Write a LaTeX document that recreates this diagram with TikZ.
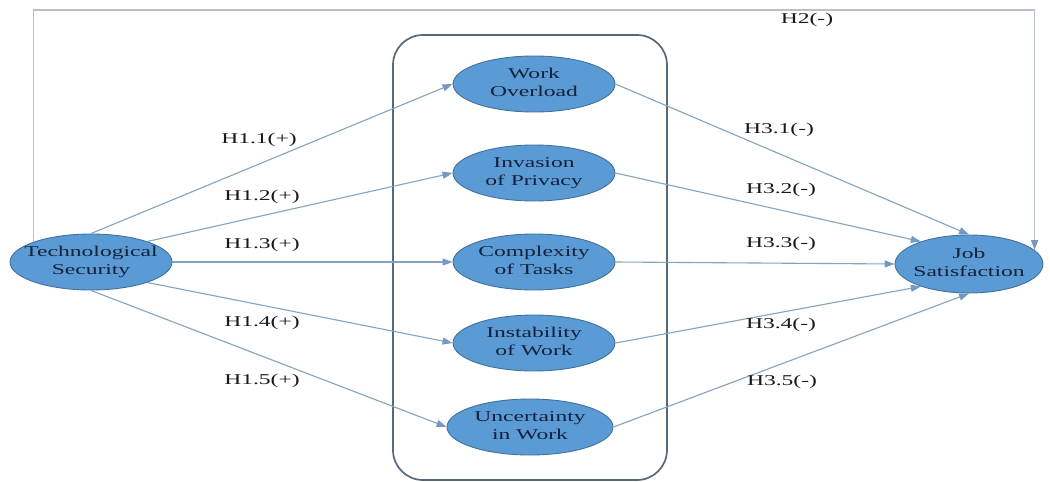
\documentclass[tikz,border=0pt]{standalone}
\usepackage{fontspec}
\setmainfont{Liberation Serif}[FakeStretch=1.57]
\usetikzlibrary{shapes.geometric,arrows.meta}
\definecolor{efill}{HTML}{5B9BD5}
\definecolor{eline}{HTML}{41719C}
\definecolor{etext}{HTML}{15213A}
\definecolor{connc}{HTML}{86A3BC}
\definecolor{tipc}{HTML}{7598C0}
\definecolor{hlinec}{HTML}{B5C1CD}
\definecolor{boxline}{HTML}{56697A}
\newcommand\etxt[2]{\makebox[0pt]{\begin{tabular}{@{}c@{}}#1\\#2\end{tabular}}}
\begin{document}
\begin{tikzpicture}[x=1pt,y=-1pt,
  var/.style={ellipse,fill=efill,draw=eline,line width=0.9pt,inner sep=0pt,
    minimum width=162pt,minimum height=56pt,text=etext,font=\fontsize{15}{18}\selectfont},
  link/.style={draw=connc,line width=1.1pt,-{Triangle[length=10pt,width=7pt,color=tipc]}},
  hlink/.style={draw=hlinec,line width=1.6pt,-{Triangle[length=10pt,width=7pt,color=tipc]}},
  lab/.style={font=\fontsize{15}{18}\selectfont,text=black!90,inner sep=0pt}]
\useasboundingbox (0,0) rectangle (1050,482);
\fill[white] (0,0) rectangle (1050,482);
\draw[boxline,line width=1.7pt,rounded corners=30pt] (393,35) rectangle (667,480);

\node[var] (ts) at (91,262) {\etxt{Technological}{Security}};
\node[var] (wo) at (534,84) {\etxt{Work}{Overload}};
\node[var] (ip) at (534,173) {\etxt{Invasion}{of Privacy}};
\node[var] (ct) at (534,262) {\etxt{Complexity}{of Tasks}};
\node[var] (iw) at (534,343) {\etxt{Instability}{of Work}};
\node[var,minimum width=166pt] (uw) at (530,427) {\etxt{Uncertainty}{in Work}};
\node[var,minimum width=148pt,minimum height=58pt] (js) at (969,264) {\etxt{Job}{Satisfaction}};

\coordinate (top) at (0,10);
\draw[hlink] (ts.north west) |- (top -| js.12) -- (js.12);

\draw[link] (ts.north) -- (wo.west);
\draw[link] (ts.20) -- (ip.west);
\draw[link] (ts.east) -- (ct.west);
\draw[link] (ts.-20) -- (iw.west);
\draw[link] (ts.south) -- (uw.west);

\draw[link] (wo.east) -- (js.north);
\draw[link] (ip.east) -- (js.155);
\draw[link] (ct.east) -- (js.west);
\draw[link] (iw.east) -- (js.205);
\draw[link] (uw.east) -- (js.south);

\node[lab] (l11) at (259,140) {H1.1(+)};
\node[lab] (l12) at (262,197) {H1.2(+)};
\node[lab] (l13) at (262,245) {H1.3(+)};
\node[lab] (l14) at (262,323) {H1.4(+)};
\node[lab] (l15) at (262,381) {H1.5(+)};
\node[lab] (l31) at (779,130) {H3.1(-)};
\node[lab] (l32) at (781,190) {H3.2(-)};
\node[lab] (l33) at (781,244) {H3.3(-)};
\node[lab] (l34) at (781,325) {H3.4(-)};
\node[lab] (l35) at (782,382) {H3.5(-)};
\node[lab] (l2) at (807,20) {H2(-)};
\end{tikzpicture}
\end{document}
